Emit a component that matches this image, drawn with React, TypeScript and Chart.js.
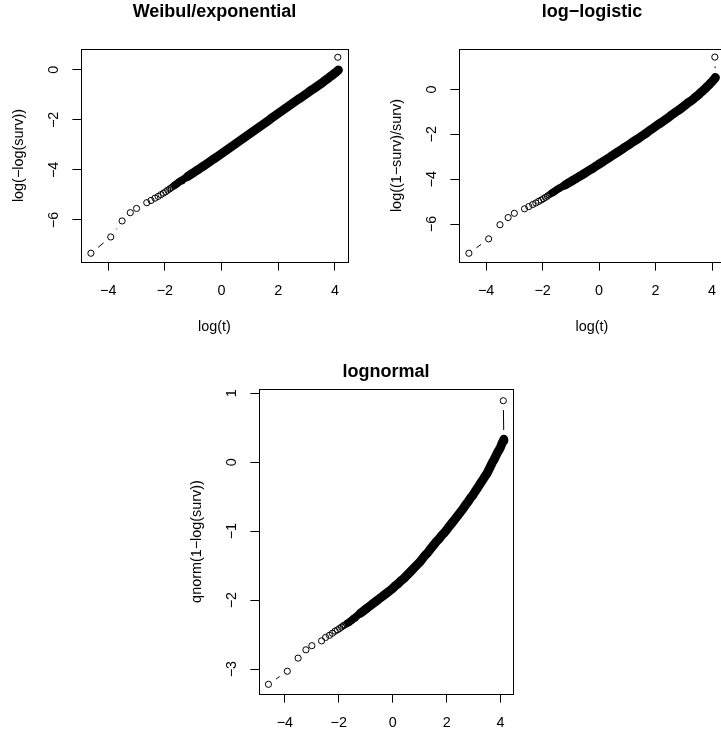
import React, { useEffect, useRef } from "react";
import { Chart, registerables } from "chart.js";

Chart.register(...registerables);

// ---- data ----
// log(t) values (shared by the three panels); last entry is the isolated top point
const LOG_T = [
  -4.61, -3.91, -3.51, -3.22, -3.0, -2.64, -2.49, -2.35, -2.24, -2.14, -2.05, -1.97, -1.9, -1.83, -1.77, -1.71,
  -1.66, -1.61, -1.56, -1.51, -1.47, -1.43,
  -1.4, -1.3, -1.2, -1.1, -1.0, -0.9, -0.8, -0.7, -0.6, -0.5, -0.4, -0.3, -0.2, -0.1, 0.0, 0.1, 0.2, 0.3, 0.4, 0.5,
  0.6, 0.7, 0.8, 0.9, 1.0, 1.1, 1.2, 1.3, 1.4, 1.5, 1.6, 1.7, 1.8, 1.9, 2.0, 2.1, 2.2, 2.3, 2.4, 2.5, 2.6, 2.7, 2.8, 2.9,
  2.95, 3.0, 3.05, 3.1, 3.15, 3.2, 3.25, 3.3, 3.35, 3.4, 3.45, 3.5, 3.55, 3.6, 3.65, 3.7, 3.75, 3.8, 3.85, 3.9, 3.95,
  4.0, 4.05, 4.1, 4.12,
  4.1,
];

// log(-log(surv))
const WEIBULL_Y = [
  -7.33, -6.68, -6.04, -5.71, -5.54, -5.31, -5.22, -5.13, -5.06, -4.99, -4.93, -4.87, -4.81, -4.76, -4.71, -4.66,
  -4.62, -4.58, -4.54, -4.49, -4.46, -4.43,
  -4.41, -4.34, -4.27, -4.19, -4.12, -4.04, -3.97, -3.89, -3.82, -3.74, -3.66, -3.58, -3.51, -3.43, -3.35, -3.27,
  -3.19, -3.11, -3.03, -2.95, -2.87, -2.79, -2.71, -2.63, -2.55, -2.47, -2.39, -2.31, -2.23, -2.15, -2.07, -1.99,
  -1.9, -1.82, -1.74, -1.66, -1.58, -1.5, -1.42, -1.34, -1.26, -1.18, -1.11, -1.03,
  -0.99, -0.95, -0.91, -0.87, -0.83, -0.79, -0.76, -0.72, -0.68, -0.64, -0.6, -0.56, -0.52, -0.47, -0.43, -0.39,
  -0.35, -0.3, -0.26, -0.22, -0.17, -0.13, -0.08, -0.03, -0.01,
  0.5,
];

// log((1-surv)/surv)
const LOGLOGISTIC_Y = [
  -7.3, -6.66, -6.03, -5.71, -5.52, -5.32, -5.22, -5.13, -5.06, -4.99, -4.93, -4.87, -4.81, -4.76, -4.7, -4.65,
  -4.61, -4.57, -4.53, -4.48, -4.45, -4.42,
  -4.4, -4.33, -4.26, -4.18, -4.11, -4.03, -3.96, -3.88, -3.81, -3.73, -3.65, -3.57, -3.5, -3.41, -3.33, -3.25,
  -3.17, -3.09, -3.01, -2.92, -2.84, -2.76, -2.68, -2.59, -2.51, -2.43, -2.34, -2.26, -2.18, -2.09, -2.01, -1.92,
  -1.82, -1.74, -1.65, -1.56, -1.48, -1.39, -1.3, -1.21, -1.11, -1.02, -0.94, -0.85,
  -0.8, -0.75, -0.7, -0.65, -0.6, -0.55, -0.52, -0.47, -0.42, -0.36, -0.31, -0.26, -0.21, -0.14, -0.09, -0.03,
  0.02, 0.09, 0.15, 0.21, 0.28, 0.34, 0.42, 0.49, 0.53,
  1.44,
];

// qnorm(1-log(surv))
const LOGNORMAL_Y = [
  -3.22, -3.03, -2.84, -2.72, -2.66, -2.59, -2.54, -2.51, -2.48, -2.45, -2.43, -2.41, -2.39, -2.37, -2.36, -2.34,
  -2.33, -2.32, -2.3, -2.29, -2.27, -2.26,
  -2.25, -2.22, -2.19, -2.16, -2.13, -2.1, -2.07, -2.04, -2.01, -1.98, -1.95, -1.92, -1.89, -1.86, -1.83, -1.79,
  -1.76, -1.72, -1.69, -1.65, -1.61, -1.57, -1.53, -1.49, -1.45, -1.4, -1.35, -1.31, -1.26, -1.21, -1.16, -1.12,
  -1.07, -1.03, -0.98, -0.93, -0.88, -0.83, -0.78, -0.73, -0.68, -0.62, -0.57, -0.51,
  -0.49, -0.46, -0.43, -0.4, -0.37, -0.34, -0.31, -0.28, -0.25, -0.22, -0.19, -0.16, -0.12, -0.08, -0.04, 0.0,
  0.03, 0.07, 0.11, 0.15, 0.18, 0.22, 0.27, 0.31, 0.33,
  0.89,
];

const X_TICKS = [-4, -2, 0, 2, 4];
const WEIBULL_TICKS = [-6, -4, -2, 0];
const LOGLOGISTIC_TICKS = [-6, -4, -2, 0];
const LOGNORMAL_TICKS = [-3, -2, -1, 0, 1];

const X_RANGE = [-4.96, 4.46];
const WEIBULL_RANGE = [-7.68, 0.83];
const LOGLOGISTIC_RANGE = [-7.69, 1.8];
const LOGNORMAL_RANGE = [-3.36, 1.06];

// index ranges of the dense (overplotted) part of the curve
const BAND_FROM = 16;
const BAND_WIDE_FROM = 24;
const BAND_TO = 90;

// ---- styling ----
const FONT = "'Liberation Sans', Arial, Helvetica, sans-serif";
const BASE = 14.4;
const TITLE_SIZE = 18;
const GAP = 9.3;
const fmt = (v: number) => (v < 0 ? "\u2212" + Math.abs(v) : String(v));

type PanelSpec = {
  title: string;
  yTitle: string;
  xTitle: string;
  ys: number[];
  yRange: number[];
  yTicks: number[];
  left: number;
  top: number;
  width: number;
  height: number;
  pad: { left: number; right: number; top: number; bottom: number };
  titleTop: number;
  titleGap: number;
};

const PANELS: PanelSpec[] = [
  {
    title: "Weibul/exponential",
    yTitle: "log(\u2212log(surv))",
    xTitle: "log(t)",
    ys: WEIBULL_Y,
    yRange: WEIBULL_RANGE,
    yTicks: WEIBULL_TICKS,
    left: 0,
    top: 0,
    width: 360,
    height: 336,
    pad: { left: 9, right: 12, top: 0, bottom: 0 },
    titleTop: 1.6,
    titleGap: 25.8,
  },
  {
    title: "log\u2212logistic",
    yTitle: "log((1\u2212surv)/surv)",
    xTitle: "log(t)",
    ys: LOGLOGISTIC_Y,
    yRange: LOGLOGISTIC_RANGE,
    yTicks: LOGLOGISTIC_TICKS,
    left: 360,
    top: 0,
    width: 380,
    height: 336,
    pad: { left: 27, right: 15, top: 0, bottom: 0 },
    titleTop: 1.6,
    titleGap: 25.8,
  },
  {
    title: "lognormal",
    yTitle: "qnorm(1\u2212log(surv))",
    xTitle: "log(t)",
    ys: LOGNORMAL_Y,
    yRange: LOGNORMAL_RANGE,
    yTicks: LOGNORMAL_TICKS,
    left: 180,
    top: 360,
    width: 360,
    height: 408,
    pad: { left: 7, right: 27, top: 0, bottom: 0 },
    titleTop: 1.6,
    titleGap: 5.8,
  },
];

// R-like "type = b" connectors (segments with gaps around the points) and the plot box
const rStylePlugin = {
  id: "rStyle",
  afterDatasetsDraw(chart: any) {
    const { ctx, chartArea } = chart;
    const pts = chart.getDatasetMeta(0).data;
    ctx.save();
    ctx.beginPath();
    ctx.rect(chartArea.left, chartArea.top, chartArea.right - chartArea.left, chartArea.bottom - chartArea.top);
    ctx.clip();
    ctx.strokeStyle = "#000";
    ctx.lineWidth = 1;
    ctx.lineCap = "butt";
    ctx.beginPath();
    for (let i = 1; i < pts.length; i++) {
      const a = pts[i - 1];
      const b = pts[i];
      const dx = b.x - a.x;
      const dy = b.y - a.y;
      const d = Math.hypot(dx, dy);
      if (d <= 2 * GAP) continue;
      const ux = dx / d;
      const uy = dy / d;
      ctx.moveTo(a.x + ux * GAP, a.y + uy * GAP);
      ctx.lineTo(b.x - ux * GAP, b.y - uy * GAP);
    }
    ctx.stroke();
    ctx.restore();

    ctx.save();
    ctx.strokeStyle = "#000";
    ctx.lineWidth = 1;
    ctx.strokeRect(
      chartArea.left + 0.5,
      chartArea.top + 0.5,
      chartArea.right - chartArea.left,
      chartArea.bottom - chartArea.top
    );
    ctx.restore();
  },
};

function Panel({ spec }: { spec: PanelSpec }) {
  const ref = useRef<HTMLCanvasElement | null>(null);

  useEffect(() => {
    if (!ref.current) return;
    const chart = new Chart(ref.current, {
      type: "line",
      data: {
        datasets: [
          {
            data: LOG_T.map((x, i) => ({ x, y: spec.ys[i] })),
            showLine: true,
            borderColor: "#000",
            borderWidth: 9,
            borderCapStyle: "round",
            borderJoinStyle: "round",
            tension: 0,
            pointStyle: "circle",
            pointRadius: 3.1,
            pointHoverRadius: 3.1,
            pointBorderWidth: 1,
            pointBorderColor: "#000",
            pointBackgroundColor: "rgba(0,0,0,0)",
            segment: {
              borderColor: (c: any) =>
                c.p0DataIndex >= BAND_FROM && c.p1DataIndex <= BAND_TO ? "#000" : "rgba(0,0,0,0)",
              borderWidth: (c: any) => (c.p0DataIndex >= BAND_WIDE_FROM ? 9 : 7.5),
            },
          } as any,
        ],
      },
      options: {
        animation: false,
        responsive: false,
        events: [],
        layout: { padding: spec.pad, autoPadding: false },
        plugins: {
          legend: { display: false },
          tooltip: { enabled: false },
          title: {
            display: true,
            text: spec.title,
            color: "#000",
            fullSize: false,
            font: { family: FONT, size: TITLE_SIZE, weight: "bold" },
            padding: { top: spec.titleTop, bottom: spec.titleGap },
          },
        },
        scales: {
          x: {
            type: "linear",
            position: "bottom",
            min: X_RANGE[0],
            max: X_RANGE[1],
            bounds: "data",
            afterBuildTicks: (s: any) => {
              s.ticks = X_TICKS.map((v) => ({ value: v }));
            },
            afterFit: (s: any) => {
              s.height = 74;
            },
            grid: {
              display: true,
              drawOnChartArea: false,
              drawTicks: true,
              tickLength: 8.64,
              tickWidth: 1,
              tickColor: "#000",
              color: "#000",
              lineWidth: 1,
            },
            border: { display: false },
            ticks: {
              autoSkip: false,
              maxRotation: 0,
              minRotation: 0,
              padding: 11.5,
              color: "#000",
              font: { family: FONT, size: BASE },
              callback: (v: any) => fmt(Number(v)),
            },
            title: {
              display: true,
              text: spec.xTitle,
              color: "#000",
              font: { family: FONT, size: BASE },
              padding: { top: 0, bottom: 0 },
            },
          },
          y: {
            type: "linear",
            position: "left",
            min: spec.yRange[0],
            max: spec.yRange[1],
            bounds: "data",
            afterBuildTicks: (s: any) => {
              s.ticks = spec.yTicks.map((v) => ({ value: v }));
            },
            afterFit: (s: any) => {
              s.width = 72;
            },
            grid: {
              display: true,
              drawOnChartArea: false,
              drawTicks: true,
              tickLength: 8.64,
              tickWidth: 1,
              tickColor: "#000",
              color: "#000",
              lineWidth: 1,
            },
            border: { display: false },
            ticks: {
              autoSkip: false,
              minRotation: 90,
              maxRotation: 90,
              crossAlign: "center",
              padding: 9.66,
              color: "#000",
              font: { family: FONT, size: BASE },
              callback: (v: any) => fmt(Number(v)),
            },
            title: {
              display: true,
              text: spec.yTitle,
              color: "#000",
              font: { family: FONT, size: BASE },
              padding: { top: 1.36, bottom: 0 },
            },
          },
        },
      } as any,
      plugins: [rStylePlugin],
    });
    return () => chart.destroy();
  }, [spec]);

  return (
    <canvas
      ref={ref}
      width={spec.width}
      height={spec.height}
      style={{
        position: "absolute",
        left: spec.left,
        top: spec.top,
        width: spec.width,
        height: spec.height,
      }}
    />
  );
}

export default function App() {
  return (
    <div
      style={{
        position: "fixed",
        left: 0,
        top: 0,
        width: 721,
        height: 734,
        overflow: "hidden",
        background: "#fff",
      }}
    >
      {PANELS.map((p) => (
        <Panel key={p.title} spec={p} />
      ))}
    </div>
  );
}
